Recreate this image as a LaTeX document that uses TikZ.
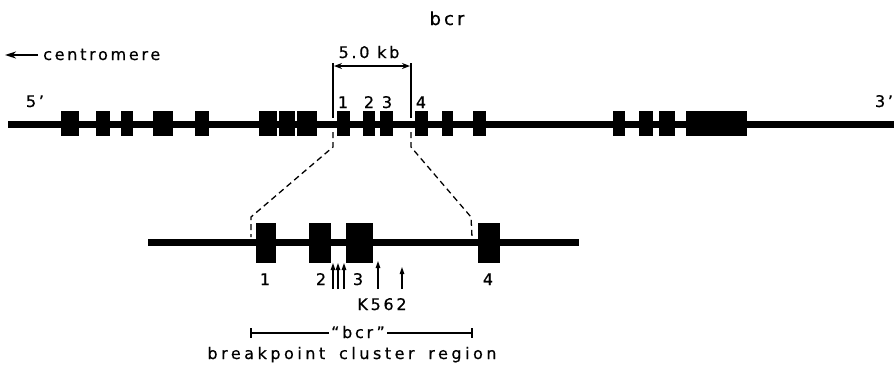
\documentclass[tikz,border=0pt]{standalone}
\usepackage{fontspec}
\setmainfont[LetterSpace=17,FakeBold=0.6]{DejaVu Sans}
\newfontfamily\widefont[LetterSpace=22,WordSpace=1.6,FakeBold=0.6]{DejaVu Sans}
\usetikzlibrary{arrows.meta}
\begin{document}
\begin{tikzpicture}[x=1pt,y=-1pt,
  lbl/.style={inner sep=0pt, anchor=base, font=\fontsize{16}{16}\selectfont},
  gene/.style={line width=7pt},
  thinline/.style={line width=1.3pt},
  dashline/.style={line width=1.3pt, dash pattern=on 6pt off 4pt},
  site/.style={line width=1.2pt, -{Triangle[length=7pt,width=4.5pt]}}]
\useasboundingbox (0,0) rectangle (894,365);

% title
\node[lbl, font=\fontsize{18}{18}\selectfont] (title) at (447,25) {bcr};

% centromere direction
\coordinate (cenA) at (38,55);
\coordinate (cenB) at (5,55);
\draw[line width=2.4pt, -{Stealth[length=11pt,width=7pt]}] (cenA) -- (cenB);
\node[lbl, anchor=base west] (cen) at (43,60) {centromere};

% upper gene map
\coordinate (t5) at (8,124);
\coordinate (t3) at (894,124);
\draw[gene] (t5) -- (t3);
\foreach \a/\b in {61/79, 96/110, 121/133, 153/173, 195/209, 259/277, 279/295,
  297/317, 337/350, 363/375, 380/393, 415/428, 442/453, 473/486,
  613/625, 639/653, 659/675, 686/747}
  \fill (\a,111) rectangle (\b,136);
\node[lbl] (p5) at (35,107) {5’};
\node[lbl] (p3) at (884,107) {3’};
\node[lbl] (u1) at (343,108) {1};
\node[lbl] (u2) at (369,108) {2};
\node[lbl] (u3) at (387,108) {3};
\node[lbl] (u4) at (421,108) {4};

% 5.0 kb bracket
\coordinate (bL) at (333,63);
\coordinate (bLb) at (333,118);
\coordinate (bR) at (411,63);
\coordinate (bRb) at (411,118);
\draw[thinline] (bL) -- (bLb);
\draw[thinline] (bR) -- (bRb);
\coordinate (kbL) at (334,66);
\coordinate (kbR) at (410,66);
\draw[thinline, {Stealth[length=8pt,width=6pt]}-{Stealth[length=8pt,width=6pt]}] (kbL) -- (kbR);
\node[lbl] (kb) at (369,58) {5.0 kb};

% expansion lines
\coordinate (eL1) at (333,132);
\coordinate (eL2) at (333,147);
\coordinate (eL3) at (251,217);
\coordinate (eL4) at (251,237);
\coordinate (eR1) at (411,132);
\coordinate (eR2) at (411,147);
\coordinate (eR3) at (471,217);
\coordinate (eR4) at (472,237);
\draw[dashline] (eL1) -- (eL2) -- (eL3) -- (eL4);
\draw[dashline] (eR1) -- (eR2) -- (eR3) -- (eR4);

% lower, expanded gene map
\coordinate (l5) at (148,242);
\coordinate (l3) at (579,242);
\draw[gene] (l5) -- (l3);
\foreach \a/\b in {256/276, 309/331, 346/373, 478/500}
  \fill (\a,223) rectangle (\b,263);
\node[lbl] (d1) at (265,285) {1};
\node[lbl] (d2) at (321,285) {2};
\node[lbl] (d3) at (358,285) {3};
\node[lbl] (d4) at (488,285) {4};

% breakpoints
\foreach \x/\t in {333/263, 338/263, 344/263, 378/261, 402/267}
  \draw[site] (\x,289) -- (\x,\t);
\node[lbl] (k562) at (382,310) {K562};

% breakpoint cluster region
\node[lbl] (bcrq) at (358,338) {“bcr”};
\coordinate (rL) at (251,333);
\coordinate (rR) at (472,333);
\draw[thinline] (251,328) -- (251,338);
\draw[thinline] (472,328) -- (472,338);
\draw[thinline] (rL) -- ([xshift=-2pt]bcrq.west |- rL);
\draw[thinline] ([xshift=2pt]bcrq.east |- rR) -- (rR);
\node[lbl, font=\fontsize{16}{16}\widefont] (bcrname) at (352,359) {breakpoint cluster region};
\end{tikzpicture}
\end{document}
